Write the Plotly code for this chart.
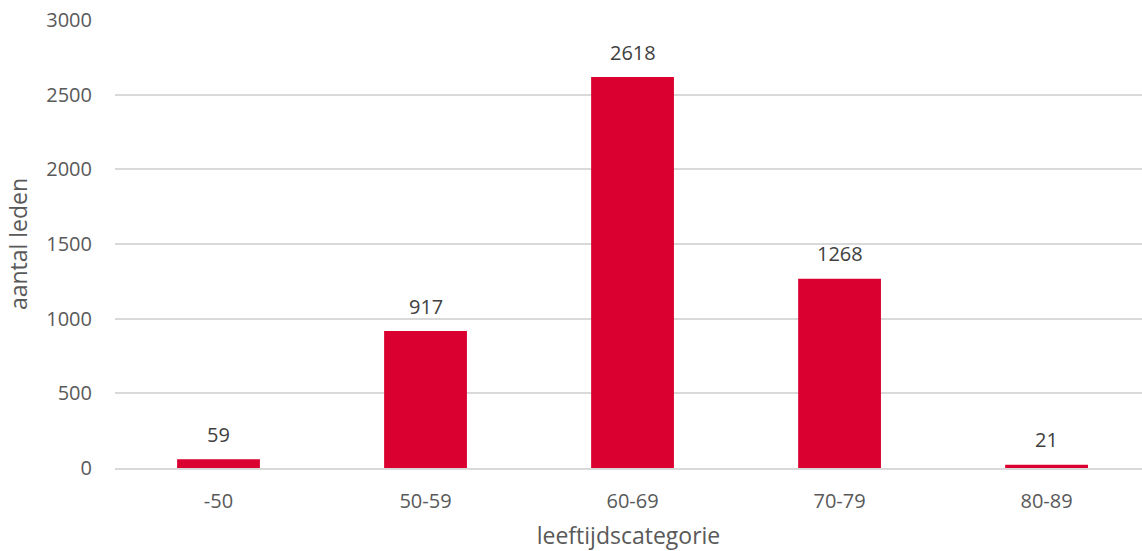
import plotly.graph_objects as go

categories = ["-50", "50-59", "60-69", "70-79", "80-89"]
values = [59, 917, 2618, 1268, 21]
y_ticks = [0, 500, 1000, 1500, 2000, 2500, 3000]

FONT = "Open Sans"
fig = go.Figure()
fig.add_trace(go.Bar(x=categories, y=values, marker=dict(color="#DA0030", line=dict(width=0)),
                     hoverinfo="x+y"))

for i, v in enumerate(values):
    fig.add_annotation(x=i, y=v, xref="x", yref="y", text=str(v), showarrow=False, yshift=25,
                       font=dict(family=FONT, size=20, color="#404040"))

fig.update_layout(
    width=1142, height=551,
    margin=dict(l=115, r=0, t=20, b=83),
    paper_bgcolor="white", plot_bgcolor="white",
    bargap=0.6, showlegend=False,
    font=dict(family=FONT, size=20, color="#595959"),
)
fig.update_xaxes(
    type="category", range=[-0.5, 4.461],
    showgrid=False, showline=True, linecolor="#D9D9D9", linewidth=1.5,
    ticks="", ticklabelstandoff=14, tickfont=dict(family=FONT, size=20, color="#595959"),
    title=dict(text="leeftijdscategorie", font=dict(family=FONT, size=23, color="#595959"), standoff=18),
)
fig.update_yaxes(
    range=[0, 3000], tickvals=y_ticks, showgrid=True, gridcolor="#D9D9D9", gridwidth=1.5,
    zeroline=False, showline=False, ticks="", ticklabelstandoff=22,
    tickfont=dict(family=FONT, size=20, color="#595959"),
    title=dict(text="aantal leden", font=dict(family=FONT, size=23, color="#595959"), standoff=12),
)
fig.write_html("out.html")
